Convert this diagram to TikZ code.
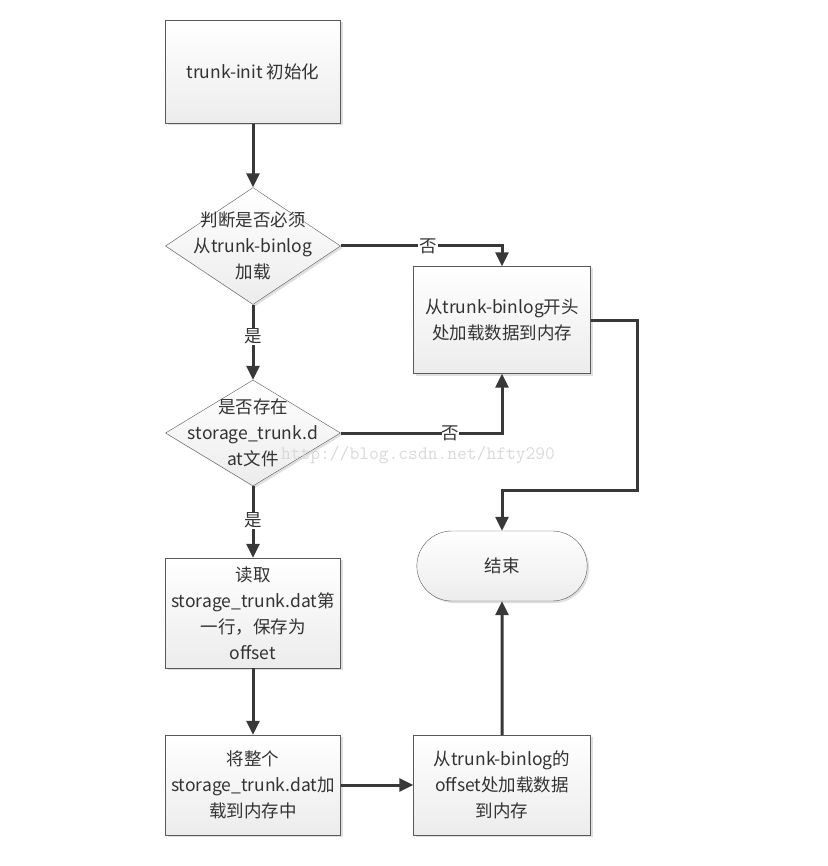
\documentclass[tikz,border=0pt]{standalone}
\usepackage{fontspec}
\setmainfont{Noto Sans CJK SC}
\usepackage{tikz}
\usetikzlibrary{arrows.meta, positioning, shapes.geometric, shapes.misc, shadows}

\begin{document}
\begin{tikzpicture}[x=1pt, y=-1pt,
    every node/.style={font=\fontsize{17.5}{26}\selectfont, text=black!80},
    proc/.style={draw=gray!70!black, top color=white, bottom color=gray!15,
        drop shadow={opacity=0.25, shadow xshift=2pt, shadow yshift=-2pt},
        minimum width=175pt, align=center, inner sep=0pt},
    decision/.style={diamond, draw=gray!70!black, top color=white, bottom color=gray!15,
        drop shadow={opacity=0.25, shadow xshift=2pt, shadow yshift=-2pt},
        minimum width=175pt, minimum height=117pt, inner sep=0pt},
    terminal/.style={rounded rectangle, draw=gray!70!black, top color=white, bottom color=gray!15,
        drop shadow={opacity=0.25, shadow xshift=2pt, shadow yshift=-2pt},
        minimum width=177pt, minimum height=70pt},
    txt/.style={align=center, inner sep=0pt},
    flow/.style={draw=black!78, line width=3pt, -{Triangle[length=14pt, width=13pt]}},
    tag/.style={fill=white, inner sep=1pt}]
    \useasboundingbox (0,0) rectangle (827,866);

    % Start
    \node[proc, minimum height=103pt] (init) at (253,72) {trunk-init 初始化};

    % Decisions
    \node[decision] (mustload) at (253,246) {};
    \node[txt] (mustloadtxt) at (mustload) {判断是否必须\\从trunk-binlog\\加载};
    \node[decision, minimum height=106pt] (hasdat) at (253,433) {};
    \node[txt] (hasdattxt) at (hasdat) {是否存在\\storage\_trunk.d\\at文件};

    % Loading steps
    \node[proc, minimum width=177pt, minimum height=107pt] (fromhead) at (502,320) {从trunk-binlog开头\\处加载数据到内存};
    \node[proc, minimum height=110pt] (readfirst) at (253,613) {读取\\storage\_trunk.dat第\\一行，保存为\\offset};
    \node[proc, minimum height=100pt] (loaddat) at (253,785) {将整个\\storage\_trunk.dat加\\载到内存中};
    \node[proc, minimum width=177pt, minimum height=100pt] (fromoffset) at (502,785) {从trunk-binlog的\\offset处加载数据\\到内存};

    % End
    \node[terminal] (stop) at (502,566) {结束};

    % Connectors
    \coordinate (turn) at (637,490);
    \draw[flow] (init) -- (mustload);
    \draw[flow] (mustload.east) -| node[tag, pos=0.27] {否} (fromhead.north);
    \draw[flow] (mustload) -- node[tag, pos=0.42] {是} (hasdat);
    \draw[flow] (hasdat.east) -| node[tag, pos=0.34, inner sep=0pt] {否} (fromhead.south);
    \draw[flow] (hasdat) -- node[tag, pos=0.48] {是} (readfirst);
    \draw[flow] (fromhead.east) -| (turn) -| (stop.north);
    \draw[flow] (readfirst) -- (loaddat);
    \draw[flow] (loaddat) -- (fromoffset);
    \draw[flow] (fromoffset) -- (stop);

    % Watermark
    \node[font=\ttfamily\fontsize{19}{19}\selectfont, text=gray!30, inner sep=0pt] (mark) at (418,455) {http://blog.csdn.net/hfty290};
\end{tikzpicture}
\end{document}
